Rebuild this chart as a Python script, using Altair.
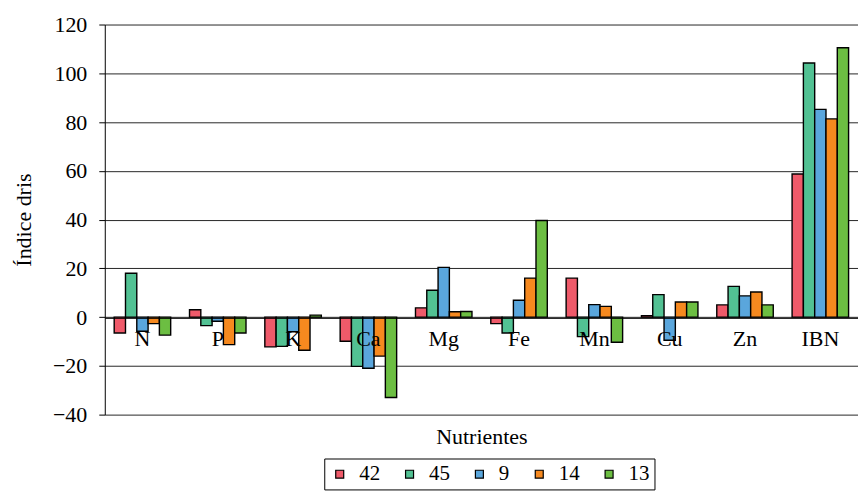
import altair as alt
import pandas as pd

nutrients = ["N", "P", "K", "Ca", "Mg", "Fe", "Mn", "Cu", "Zn", "IBN"]
series = ["42", "45", "9", "14", "13"]
colors = ["#EF5A6A", "#52C193", "#5AA6DC", "#F6891F", "#6CBE42"]

s42 = [-6.5, 3.0, -12.2, -9.9, 3.8, -2.7, 16.0, 0.6, 5.0, 58.7]
s45 = [18.0, -3.5, -12.0, -20.2, 11.0, -6.5, -8.0, 9.2, 12.6, 104.2]
s9 = [-5.8, -1.7, -6.0, -21.0, 20.4, 6.9, 5.1, -9.5, 8.7, 85.2]
s14 = [-2.7, -11.3, -13.6, -16.0, 2.2, 16.0, 4.4, 6.2, 10.3, 81.3]
s13 = [-7.4, -6.5, 0.8, -33.0, 2.3, 39.6, -10.3, 6.2, 5.0, 110.5]

all_series = [s42, s45, s9, s14, s13]
rows = []
for name, vals in zip(series, all_series):
    for n, v in zip(nutrients, vals):
        rows.append({"Nutriente": n, "Serie": name, "Valor": v})
df = pd.DataFrame(rows)

font = "Liberation Serif"

chart = alt.Chart(df).mark_bar(stroke="black", strokeWidth=1.4).encode(
    x=alt.X(
        "Nutriente:N",
        sort=nutrients,
        scale=alt.Scale(paddingInner=0.25, paddingOuter=0.125),
        axis=alt.Axis(
            title="Nutrientes", offset=-97, ticks=False, labelAngle=0,
            labelPadding=11, titlePadding=77, domainColor="black",
            domainWidth=1, zindex=1, grid=False,
            labelFontSize=22, titleFontSize=22, labelFont=font, titleFont=font,
            labelColor="black", titleColor="black", titleFontWeight="normal",
        ),
    ),
    xOffset=alt.XOffset("Serie:N", sort=series, scale=alt.Scale(paddingInner=0, paddingOuter=0)),
    y=alt.Y(
        "Valor:Q",
        scale=alt.Scale(domain=[-40, 120], nice=False, zero=False),
        axis=alt.Axis(
            values=list(range(-40, 121, 20)), title="Índice dris", grid=True,
            gridColor="black", gridWidth=1, gridOpacity=0.85, domainColor="black",
            tickColor="black", tickSize=6, labelPadding=12, titlePadding=17,
            labelFontSize=22, titleFontSize=22, labelFont=font, titleFont=font,
            labelColor="black", titleColor="black", titleFontWeight="normal",
        ),
    ),
    color=alt.Color(
        "Serie:N",
        sort=series,
        scale=alt.Scale(domain=series, range=colors),
        legend=alt.Legend(
            title=None, orient="none", direction="horizontal",
            legendX=220, legendY=435,
            strokeColor="black", padding=5,
            symbolType="square", symbolSize=64, symbolStrokeColor="black",
            symbolStrokeWidth=1.2, symbolOpacity=1,
            labelFontSize=21, labelFont=font, labelColor="black",
            labelOffset=9, columnPadding=19,
        ),
    ),
).properties(
    width=755, height=391,
    padding={"left": 4, "top": 5, "right": 0, "bottom": 0},
).configure_view(stroke=None)

chart.save("out.html", embed_options={"renderer": "svg", "actions": False})
